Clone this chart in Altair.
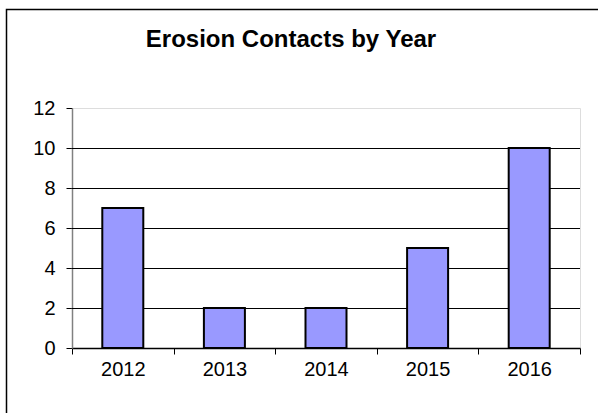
import altair as alt
import pandas as pd

title_text = ["Erosion Contacts by Year"]
years = ["2012", "2013", "2014", "2015", "2016"]
contacts = [7, 2, 2, 5, 10]
grid_values = [2, 4, 6, 8, 10]
y_ticks = [0, 2, 4, 6, 8, 10, 12]

df = pd.DataFrame({"Year": years, "Contacts": contacts})
grid_df = pd.DataFrame({"v": grid_values})
title_df = pd.DataFrame({"t": title_text})

FONT = "Liberation Sans"
yscale = alt.Scale(domain=[0, 12], nice=False)
xscale = alt.Scale(paddingInner=0, paddingOuter=0)

y_axis = alt.Axis(
    values=y_ticks, title=None, grid=False,
    domainColor="#808080", domainWidth=1.5,
    tickColor="black", tickSize=6, tickWidth=1,
    labelFont=FONT, labelFontSize=20, labelColor="black", labelPadding=11,
)

frame = alt.Chart(title_df).mark_rect(
    fill="transparent", stroke="black", strokeWidth=1.5
).encode(
    x=alt.value(-65.5), x2=alt.value(700), y=alt.value(-98.5), y2=alt.value(500)
)

title = alt.Chart(title_df).mark_text(
    font=FONT, fontSize=24, fontWeight="bold", color="black",
    align="center", baseline="alphabetic"
).encode(x=alt.value(219), y=alt.value(-61), text="t:N")

grid = alt.Chart(grid_df).mark_rule(color="black", strokeWidth=1, yOffset=0.5).encode(
    y=alt.Y("v:Q", scale=yscale, axis=y_axis)
)

bars = alt.Chart(df).mark_bar(
    size=41, color="#9999FF", stroke="black", strokeWidth=2
).encode(
    x=alt.X("Year:N", sort=years, scale=xscale,
            axis=alt.Axis(title=None, labelAngle=0, tickBand="extent",
                          domainColor="black", domainWidth=1.5,
                          tickColor="black", tickSize=6, tickWidth=1,
                          labelFont=FONT, labelFontSize=20, labelColor="black",
                          labelPadding=5)),
    y=alt.Y("Contacts:Q", scale=yscale, axis=y_axis),
)

chart = alt.layer(frame, title, grid, bars).properties(
    width=508, height=240,
    autosize=alt.AutoSizeParams(type="none"),
    padding={"left": 72, "top": 108, "right": 18, "bottom": 65},
).configure_view(stroke="#808080", strokeWidth=2).configure(background="white")

chart.save("out.html", embed_options={"renderer": "svg", "actions": False})
